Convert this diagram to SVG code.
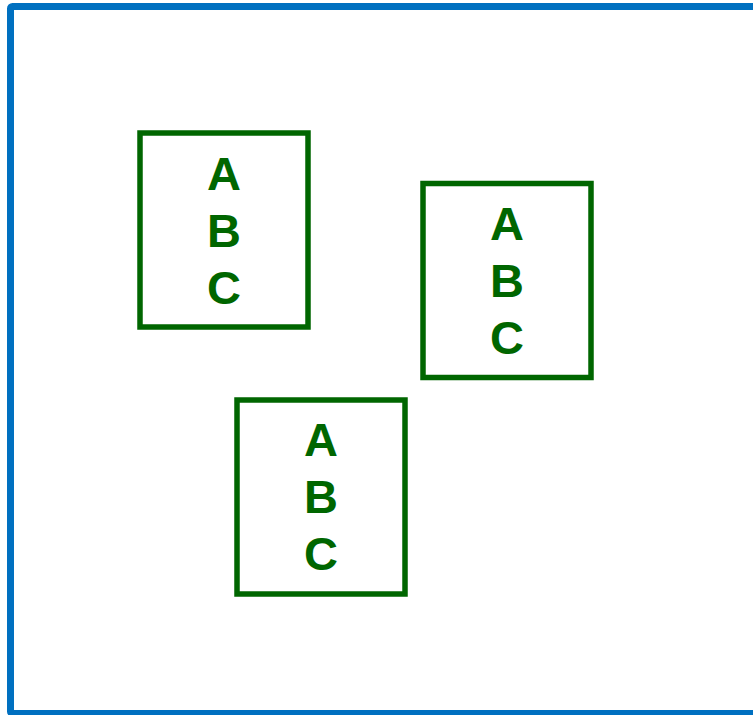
<svg xmlns="http://www.w3.org/2000/svg" width="753" height="715" viewBox="0 0 753 715">
<style>
.frame{fill:#ffffff;stroke:#0070C0;stroke-width:7}
.box{fill:#ffffff;stroke:#006600;stroke-width:5.5}
.lbl{font-family:"Liberation Sans",Arial,sans-serif;font-weight:bold;font-size:47px;fill:#006600;text-anchor:middle}
</style>
<rect width="753" height="715" fill="#ffffff"/>
<rect class="frame" x="10.5" y="6.5" width="760" height="707" rx="2"/>
<g id="node1">
<rect class="box" x="140" y="133" width="168" height="194"/>
<text class="lbl" x="224" y="190">A</text>
<text class="lbl" x="224" y="247">B</text>
<text class="lbl" x="224" y="304">C</text>
</g>
<g id="node2">
<rect class="box" x="423" y="183.5" width="168" height="194"/>
<text class="lbl" x="507" y="240">A</text>
<text class="lbl" x="507" y="297">B</text>
<text class="lbl" x="507" y="354">C</text>
</g>
<g id="node3">
<rect class="box" x="237" y="400" width="168" height="194"/>
<text class="lbl" x="321" y="456">A</text>
<text class="lbl" x="321" y="513">B</text>
<text class="lbl" x="321" y="570">C</text>
</g>
<g id="connectors"></g>
</svg>
